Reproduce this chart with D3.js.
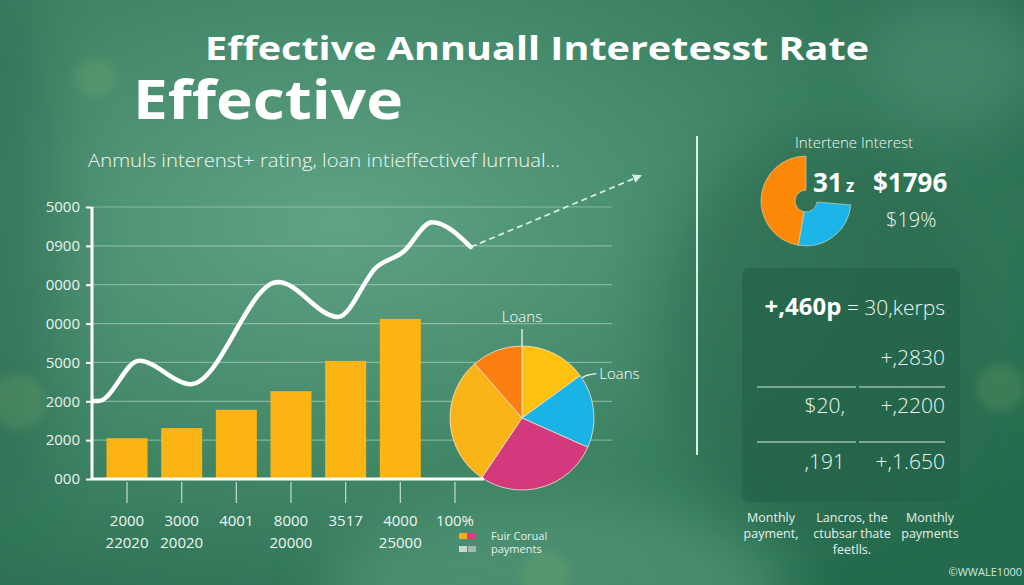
<!DOCTYPE html>
<html>
<head>
<meta charset="utf-8">
<script src="https://cdn.jsdelivr.net/npm/d3@7"></script>
<style>
  html, body { margin: 0; padding: 0; background: #3a8063; }
  svg { display: block; font-family: "Open Sans", "Noto Sans", sans-serif; }
</style>
</head>
<body>
<svg id="chart" width="1024" height="585"></svg>
<script>
// ---------- data ----------
const titleText = "Effective Annuall Interetesst Rate";
const bigWord = "Effective";
const subtitleText = "Anmuls interenst+ rating, loan intieffectivef lurnual...";

const yTickValues = [0, 1000, 2000, 3000, 4000, 5000, 6000, 7000];
const yTickLabels = ["000", "2000", "2000", "5000", "0000", "0000", "0900", "5000"];

const xCategories = ["2000", "3000", "4001", "8000", "3517", "4000", "100%"];
const xSubLabels = ["22020", "20020", "", "20000", "", "25000", ""];

const barValues = [1050, 1310, 1780, 2260, 3040, 4120];

const linePosX = [-0.62, -0.52, 0.22, 1.17, 2.76, 3.86, 4.57, 5.05, 5.58, 6.29];
const lineValues = [2010, 2010, 3040, 2440, 5070, 4170, 5460, 5840, 6610, 5970];
const arrowPosX = [6.29, 9.39];
const arrowValues = [5970, 7800];

const pieLabels = ["Loans", "Loans", "", "", ""];
const pieValues = [54, 60, 100, 105, 41];
const pieColors = ["#fdc10f", "#19b3e6", "#d4397d", "#fbb417", "#fb7f10"];

const donutValues = [95, 170];
const donutColors = ["#1db4ea", "#fb8806"];
const donutHeading = "Intertene Interest";
const donutStats = ["31", "z", "$1796", "$19%"];

const panelRows = [
  ["+,460p", "= 30,kerps"],
  ["", "+,2830"],
  ["$20,", "+,2200"],
  [",191", "+,1.650"]
];
const panelFooters = [
  ["Monthly", "payment,"],
  ["Lancros, the", "ctubsar thate", "feetlls."],
  ["Monthly", "payments"]
];
const legendColors = [["#f9a91c", "#e2387f"], ["#c9d8d2", "#a3b8b0"]];
const legendLines = ["Fuir Corual", "payments"];
const watermark = "\u00A9WWALE1000";

// ---------- setup ----------
const W = 1024, H = 585;
const svg = d3.select("#chart");
const defs = svg.append("defs");

const bg = defs.append("radialGradient").attr("id", "bgGrad")
  .attr("cx", "33%").attr("cy", "38%").attr("r", "80%");
bg.append("stop").attr("offset", "0%").attr("stop-color", "#5fa384");
bg.append("stop").attr("offset", "45%").attr("stop-color", "#458a6b");
bg.append("stop").attr("offset", "100%").attr("stop-color", "#246a4c");

const blur = defs.append("filter").attr("id", "blur").attr("x", "-50%").attr("y", "-50%").attr("width", "200%").attr("height", "200%");
blur.append("feGaussianBlur").attr("stdDeviation", 30);
const blurS = defs.append("filter").attr("id", "blurS").attr("x", "-50%").attr("y", "-50%").attr("width", "200%").attr("height", "200%");
blurS.append("feGaussianBlur").attr("stdDeviation", 4);

svg.append("rect").attr("width", W).attr("height", H).attr("fill", "url(#bgGrad)");
// soft light / dark blobs
svg.append("ellipse").attr("cx", 560).attr("cy", 590).attr("rx", 230).attr("ry", 90)
  .attr("fill", "#5ea282").attr("opacity", 0.55).attr("filter", "url(#blur)");
svg.append("ellipse").attr("cx", 820).attr("cy", 330).attr("rx", 160).attr("ry", 200)
  .attr("fill", "#215f45").attr("opacity", 0.45).attr("filter", "url(#blur)");
svg.append("ellipse").attr("cx", 960).attr("cy", 60).attr("rx", 90).attr("ry", 70)
  .attr("fill", "#55977a").attr("opacity", 0.5).attr("filter", "url(#blur)");
svg.append("ellipse").attr("cx", 0).attr("cy", 250).attr("rx", 60).attr("ry", 260)
  .attr("fill", "#245f46").attr("opacity", 0.4).attr("filter", "url(#blur)");
// faint coins (decoration)
[[95, 78, 20], [18, 402, 28], [545, 575, 24], [1000, 388, 24]].forEach(([cx, cy, r]) => {
  svg.append("circle").attr("cx", cx).attr("cy", cy).attr("r", r)
    .attr("fill", "#8fbf73").attr("opacity", 0.18).attr("filter", "url(#blurS)");
});

// ---------- titles ----------
svg.append("text").attr("x", 537).attr("y", 60).attr("text-anchor", "middle")
  .attr("font-size", 33).attr("font-weight", 700).attr("fill", "#ffffff")
  .attr("textLength", 664).attr("lengthAdjust", "spacingAndGlyphs").text(titleText);
svg.append("text").attr("x", 133).attr("y", 119)
  .attr("font-size", 54).attr("font-weight", 700).attr("fill", "#ffffff")
  .attr("textLength", 270).attr("lengthAdjust", "spacingAndGlyphs").text(bigWord);
svg.append("text").attr("x", 88).attr("y", 167)
  .attr("font-size", 19).attr("font-weight", 300).attr("fill", "#f2f8f5")
  .attr("textLength", 472).attr("lengthAdjust", "spacingAndGlyphs").text(subtitleText);

// ---------- main chart ----------
const plotLeft = 92, plotBottom = 479, plotTop = 207;
const y = d3.scaleLinear().domain([0, 7000]).range([plotBottom, plotTop]);
const x = d3.scaleBand().domain(xCategories).range([99.7, 482.3]).paddingInner(0.25).paddingOuter(0.125);
const xLin = d3.scaleLinear().domain([-0.5, 6.5]).range([99.7, 482.3]);

// grid
svg.append("g").selectAll("line").data(yTickValues.slice(1)).join("line")
  .attr("x1", plotLeft).attr("x2", 612)
  .attr("y1", d => y(d)).attr("y2", d => y(d))
  .attr("stroke", "#cfe6da").attr("stroke-opacity", 0.45).attr("stroke-width", 1.2);

// y axis
const yAxis = d3.axisLeft(y).tickValues(yTickValues).tickSize(6).tickPadding(6)
  .tickFormat((d, i) => yTickLabels[i]);
const yg = svg.append("g").attr("transform", `translate(${plotLeft},0)`).call(yAxis);
yg.select(".domain").attr("stroke", "#ffffff").attr("stroke-width", 3)
  .attr("d", `M0,${plotTop}V${plotBottom + 1}`);
yg.selectAll(".tick line").attr("stroke", "#ffffff").attr("stroke-width", 2);
yg.selectAll(".tick text").attr("fill", "#e9f4ef").attr("font-size", 15)
  .attr("font-family", "Open Sans, sans-serif");

// bars
svg.append("g").selectAll("rect").data(barValues).join("rect")
  .attr("x", (d, i) => x(xCategories[i]))
  .attr("width", x.bandwidth())
  .attr("y", d => y(d))
  .attr("height", d => y(0) - y(d))
  .attr("fill", "#fbb412");

// pie
const pieCx = 522, pieCy = 418, pieR = 72;
const pie = d3.pie().sort(null).value(d => d);
const arc = d3.arc().innerRadius(0).outerRadius(pieR);
const pg = svg.append("g").attr("transform", `translate(${pieCx},${pieCy})`);
pg.selectAll("path").data(pie(pieValues)).join("path")
  .attr("d", arc).attr("fill", (d, i) => pieColors[i])
  .attr("stroke", "#f3e6c8").attr("stroke-width", 1).attr("stroke-opacity", 0.8);
pg.append("line").attr("x1", 0).attr("x2", 0).attr("y1", -pieR - 17).attr("y2", -pieR)
  .attr("stroke", "#ffffff").attr("stroke-width", 1.2);
pg.append("text").attr("x", 0).attr("y", -pieR - 24).attr("text-anchor", "middle")
  .attr("font-size", 15).attr("font-weight", 300).attr("fill", "#ffffff").text(pieLabels[0]);
const b1 = pie(pieValues)[1].startAngle;
const bx = Math.sin(b1) * pieR, by = -Math.cos(b1) * pieR;
pg.append("path").attr("d", `M${bx + 2},${by + 2}Q${bx + 6},${by - 1} ${bx + 16},${by - 2}`)
  .attr("fill", "none").attr("stroke", "#ffffff").attr("stroke-width", 1.2);
pg.append("text").attr("x", bx + 19).attr("y", by + 3)
  .attr("font-size", 15).attr("font-weight", 300).attr("fill", "#ffffff").text(pieLabels[1]);

// x axis
const xAxis = d3.axisBottom(x).tickSize(24).tickFormat("");
const xg = svg.append("g").attr("transform", `translate(0,${plotBottom})`).call(xAxis);
xg.select(".domain").attr("stroke", "#ffffff").attr("stroke-width", 3)
  .attr("d", `M${plotLeft},0H484`);
xg.selectAll(".tick line").attr("stroke", "#e6f2ec").attr("stroke-width", 1.2).attr("stroke-opacity", 0.8)
  .attr("y1", 3);
svg.append("g").selectAll("text").data(xCategories).join("text")
  .attr("x", d => x(d) + x.bandwidth() / 2).attr("y", 526)
  .attr("text-anchor", "middle").attr("font-size", 15).attr("fill", "#eef6f2").text(d => d);
svg.append("g").selectAll("text").data(xSubLabels).join("text")
  .attr("x", (d, i) => x(xCategories[i]) + x.bandwidth() / 2).attr("y", 548)
  .attr("text-anchor", "middle").attr("font-size", 15).attr("fill", "#eef6f2").text(d => d);

// line
const linePts = linePosX.map((p, i) => [xLin(p), y(lineValues[i])]);
svg.append("path").datum(linePts)
  .attr("d", d3.line().curve(d3.curveMonotoneX))
  .attr("fill", "none").attr("stroke", "#ffffff").attr("stroke-width", 4.5)
  .attr("stroke-linecap", "round").attr("stroke-linejoin", "round");

// dashed arrow
defs.append("marker").attr("id", "arrowHead").attr("viewBox", "0 0 10 10")
  .attr("refX", 8).attr("refY", 5).attr("markerWidth", 9).attr("markerHeight", 9)
  .attr("markerUnits", "userSpaceOnUse").attr("orient", "auto")
  .append("path").attr("d", "M0,0L10,5L0,10Z").attr("fill", "#d4efe3");
svg.append("line")
  .attr("x1", xLin(arrowPosX[0])).attr("y1", y(arrowValues[0]))
  .attr("x2", xLin(arrowPosX[1])).attr("y2", y(arrowValues[1]))
  .attr("stroke", "#d4efe3").attr("stroke-width", 1.8).attr("stroke-dasharray", "6,4")
  .attr("marker-end", "url(#arrowHead)");

// legend
const lg = svg.append("g");
legendColors.forEach((row, r) => row.forEach((c, k) => {
  lg.append("rect").attr("x", 459 + k * 9).attr("y", 533 + r * 13).attr("width", 8).attr("height", 6).attr("fill", c);
}));
legendLines.forEach((t, i) => lg.append("text").attr("x", 491).attr("y", 540 + i * 13)
  .attr("font-size", 11).attr("fill", "#e6f2ec").text(t));

// ---------- right section ----------
svg.append("line").attr("x1", 697).attr("x2", 697).attr("y1", 136).attr("y2", 455)
  .attr("stroke", "#d8efe4").attr("stroke-width", 2);

svg.append("text").attr("x", 854).attr("y", 148).attr("text-anchor", "middle")
  .attr("font-size", 15).attr("font-weight", 300).attr("fill", "#f0f7f4").text(donutHeading);

const dg = svg.append("g").attr("transform", "translate(806,201)");
const dpie = d3.pie().sort(null).value(d => d).startAngle(95 * Math.PI / 180).endAngle(2 * Math.PI);
const darc = d3.arc().innerRadius(11).outerRadius(45);
dg.selectAll("path").data(dpie(donutValues)).join("path")
  .attr("d", darc).attr("fill", (d, i) => donutColors[i])
  .attr("stroke", "#e8d9b5").attr("stroke-width", 0.6);

svg.append("text").attr("x", 813).attr("y", 192).attr("font-size", 26).attr("font-weight", 700)
  .attr("fill", "#ffffff").text(donutStats[0]);
svg.append("text").attr("x", 846).attr("y", 192).attr("font-size", 17).attr("font-weight", 700)
  .attr("fill", "#ffffff").text(donutStats[1]);
svg.append("text").attr("x", 873).attr("y", 192).attr("font-size", 26).attr("font-weight", 700)
  .attr("fill", "#ffffff").text(donutStats[2]);
svg.append("text").attr("x", 886).attr("y", 227).attr("font-size", 20).attr("font-weight", 300)
  .attr("fill", "#f0f7f4").text(donutStats[3]);

// panel
svg.append("rect").attr("x", 742).attr("y", 268).attr("width", 218).attr("height", 234).attr("rx", 7)
  .attr("fill", "#23644a").attr("fill-opacity", 0.7);
const rowY = [315, 365, 413, 469];
const pt = svg.append("g");
pt.append("text").attr("x", 945).attr("y", rowY[0]).attr("text-anchor", "end")
  .attr("font-size", 21).attr("font-weight", 300).attr("fill", "#eef7f2")
  .html(`<tspan font-size="24" font-weight="700" fill="#ffffff">${panelRows[0][0]}</tspan> ${panelRows[0][1]}`);
panelRows.slice(1).forEach((r, i) => {
  pt.append("text").attr("x", 845).attr("y", rowY[i + 1]).attr("text-anchor", "end")
    .attr("font-size", 21).attr("font-weight", 300).attr("fill", "#eef7f2").text(r[0]);
  pt.append("text").attr("x", 945).attr("y", rowY[i + 1]).attr("text-anchor", "end")
    .attr("font-size", 21).attr("font-weight", 300).attr("fill", "#eef7f2").text(r[1]);
});
[387, 442].forEach(ly => {
  pt.append("line").attr("x1", 757).attr("x2", 856).attr("y1", ly).attr("y2", ly)
    .attr("stroke", "#cfe8dc").attr("stroke-width", 1.2);
  pt.append("line").attr("x1", 859).attr("x2", 945).attr("y1", ly).attr("y2", ly)
    .attr("stroke", "#cfe8dc").attr("stroke-width", 1.2);
});
const footX = [771, 852, 930];
panelFooters.forEach((lines, i) => lines.forEach((t, j) => {
  svg.append("text").attr("x", footX[i]).attr("y", 522 + j * 16).attr("text-anchor", "middle")
    .attr("font-size", 12.5).attr("fill", "#e4f1eb").text(t);
}));

svg.append("text").attr("x", 1022).attr("y", 576).attr("text-anchor", "end")
  .attr("font-size", 11).attr("fill", "#d2e6dc").text(watermark);
</script>
</body>
</html>
